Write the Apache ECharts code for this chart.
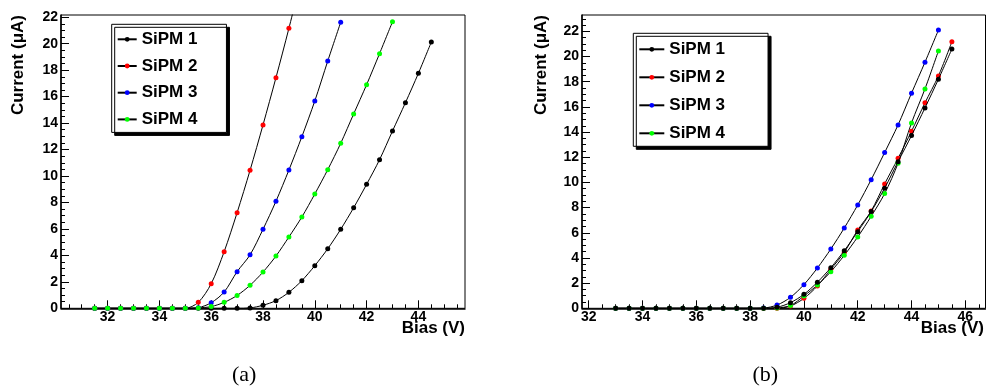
<!DOCTYPE html>
<html><head><meta charset="utf-8">
<script src="https://cdn.jsdelivr.net/npm/echarts/dist/echarts.min.js"></script>
<style>html,body{margin:0;padding:0;background:#fff}#c{width:986px;height:388px}</style>
</head><body><div id="c"></div>
<script>
const seriesNames = ['SiPM 1', 'SiPM 2', 'SiPM 3', 'SiPM 4'];
const seriesColors = ['#000000', '#ff0000', '#0000ff', '#00ff00'];

// Panel (a)
const biasA = [31.5, 32, 32.5, 33, 33.5, 34, 34.5, 35, 35.5, 36, 36.5, 37, 37.5, 38, 38.5, 39, 39.5, 40, 40.5, 41, 41.5, 42, 42.5, 43, 43.5, 44, 44.5];
const sipm1A = [0, 0, 0, 0, 0, 0, 0, 0, 0, 0, 0, 0, 0.03, 0.23, 0.58, 1.21, 2.09, 3.22, 4.5, 5.97, 7.6, 9.37, 11.23, 13.4, 15.54, 17.76, 20.13];
const sipm2A = [0, 0, 0, 0, 0, 0, 0, 0, 0.45, 1.86, 4.28, 7.23, 10.43, 13.86, 17.43, 21.16, 25.1];
const sipm3A = [0, 0, 0, 0, 0, 0, 0, 0, 0.05, 0.42, 1.23, 2.77, 4.04, 5.97, 8.09, 10.45, 12.97, 15.67, 18.69, 21.62];
const sipm4A = [0, 0, 0, 0, 0, 0, 0, 0, 0.03, 0.13, 0.45, 0.97, 1.74, 2.74, 3.95, 5.39, 6.9, 8.64, 10.48, 12.47, 14.69, 16.9, 19.25, 21.66];

// Panel (b)
const biasB = [33, 33.5, 34, 34.5, 35, 35.5, 36, 36.5, 37, 37.5, 38, 38.5, 39, 39.5, 40, 40.5, 41, 41.5, 42, 42.5, 43, 43.5, 44, 44.5, 45, 45.5];
const sipm1B = [0, 0, 0, 0, 0, 0, 0, 0, 0, 0, 0, 0, 0.08, 0.45, 1.11, 2.07, 3.23, 4.58, 6.09, 7.68, 9.54, 11.65, 13.72, 15.92, 18.2, 20.59];
const sipm2B = [0, 0, 0, 0, 0, 0, 0, 0, 0, 0, 0, 0, 0, 0.18, 0.79, 1.77, 3.1, 4.45, 6.22, 7.73, 9.88, 11.92, 14.07, 16.32, 18.46, 21.17];
const sipm3B = [0, 0, 0, 0, 0, 0, 0, 0, 0, 0, 0, 0.02, 0.26, 0.87, 1.88, 3.2, 4.71, 6.38, 8.21, 10.22, 12.37, 14.57, 17.09, 19.55, 22.1];
const sipm4B = [0, 0, 0, 0, 0, 0, 0, 0, 0, 0, 0, 0, 0.03, 0.22, 0.98, 1.85, 2.91, 4.21, 5.67, 7.31, 9.11, 11.53, 14.73, 17.43, 20.45];

// Tick labels
const xLabelsA = [32, 34, 36, 38, 40, 42, 44];
const xLabelsB = [32, 34, 36, 38, 40, 42, 44, 46];
const yLabelsA = [0, 2, 4, 6, 8, 10, 12, 14, 16, 18, 20, 22];
const yLabelsB = [0, 2, 4, 6, 8, 10, 12, 14, 16, 18, 20, 22];
const captions = ['(a)', '(b)'];
const xTitle = 'Bias (V)';
const yTitle = 'Current (\u03bcA)';

function steps(a, b, s) { const r = []; for (let v = a; v <= b + 1e-9; v += s) r.push(+v.toFixed(2)); return r; }
function pairs(xs, ys) { return ys.map((v, i) => [xs[i], v]); }

const FONT = 'Liberation Sans, Arial, sans-serif';
const SERIF = 'Liberation Serif, Times New Roman, serif';
const lblStyle = { color: '#000', fontFamily: FONT, fontWeight: 'bold', fontSize: 14 };
const titleStyle = { color: '#000', fontFamily: FONT, fontWeight: 'bold', fontSize: 17 };

function mainX(grid, min, max, labels, allTicks) {
  return {
    type: 'value', gridIndex: grid, min: min, max: max, position: 'bottom',
    axisLine: { show: true, onZero: false, lineStyle: { color: '#000', width: 1.5 } },
    axisTick: { show: true, inside: true, length: 8, customValues: labels, lineStyle: { color: '#000', width: 1 } },
    axisLabel: Object.assign({
      customValues: allTicks, margin: 2, hideOverlap: false, showMinLabel: true, showMaxLabel: true,
      formatter: function (v) { return labels.indexOf(Math.round(v * 100) / 100) >= 0 ? String(Math.round(v)) : ''; }
    }, lblStyle),
    splitLine: { show: false }
  };
}
function minorX(grid, min, max, ticks) {
  return {
    type: 'value', gridIndex: grid, min: min, max: max, position: 'bottom',
    axisLine: { show: false, onZero: false },
    axisTick: { show: true, inside: true, length: 4, customValues: ticks, lineStyle: { color: '#000', width: 1 } },
    axisLabel: { show: false }, splitLine: { show: false }
  };
}
function mainY(grid, min, max, labels) {
  return {
    type: 'value', gridIndex: grid, min: min, max: max, position: 'left',
    axisLine: { show: true, onZero: false, lineStyle: { color: '#000', width: 1.5 } },
    axisTick: { show: true, inside: true, length: 8, customValues: labels, lineStyle: { color: '#000', width: 1 } },
    axisLabel: Object.assign({ customValues: labels, margin: 3, hideOverlap: false, showMinLabel: true, showMaxLabel: true }, lblStyle),
    splitLine: { show: false }
  };
}
function minorY(grid, min, max, ticks, pad) {
  return {
    type: 'value', gridIndex: grid, min: min, max: max, position: 'left',
    axisLine: { show: false, onZero: false },
    axisTick: { show: true, inside: true, length: 4, customValues: ticks, lineStyle: { color: '#000', width: 1 } },
    axisLabel: { show: false }, splitLine: { show: false },
    name: yTitle, nameLocation: 'end', nameGap: 0, nameRotate: 90, nameMoveOverlap: false,
    nameTextStyle: Object.assign({ align: 'right', verticalAlign: 'bottom', padding: [0, 0, pad, 0] }, titleStyle)
  };
}
function mkSeries(i, ax, xs, ys, z) {
  return {
    name: seriesNames[i], type: 'line', xAxisIndex: ax, yAxisIndex: ax,
    data: pairs(xs, ys), smooth: 0.3, symbol: 'circle', symbolSize: 5, showSymbol: true,
    lineStyle: { color: '#000', width: 1 }, itemStyle: { color: seriesColors[i], borderWidth: 0 },
    clip: true, z: z, emphasis: { disabled: true }, animation: false
  };
}
function mkLegend(left, top, iw, gap, pad) {
  return {
    orient: 'vertical', left: left, top: top, data: seriesNames, selectedMode: false,
    itemWidth: iw, itemHeight: 6, itemGap: gap, padding: pad,
    backgroundColor: '#fff', borderColor: '#000', borderWidth: 1, borderRadius: 0,
    shadowColor: '#000', shadowOffsetX: 3, shadowOffsetY: 3, shadowBlur: 0,
    textStyle: Object.assign({ lineHeight: 18 }, titleStyle)
  };
}
function xTitleText(x) {
  return {
    type: 'text', x: x, y: 320, z: 10, silent: true,
    style: { text: xTitle, align: 'right', verticalAlign: 'top', font: 'bold 17px ' + FONT, fill: '#000' }
  };
}

const minorTicksXA = steps(30.5, 45.5, 0.5);
const minorTicksXB = steps(32, 46.5, 0.5);

const option = {
  backgroundColor: '#fff',
  animation: false,
  title: [
    { text: captions[0], left: 227, top: 359, textStyle: { fontFamily: SERIF, fontWeight: 'normal', fontSize: 22, color: '#000' } },
    { text: captions[1], left: 747.5, top: 359, textStyle: { fontFamily: SERIF, fontWeight: 'normal', fontSize: 22, color: '#000' } }
  ],
  grid: [
    { left: 61, top: 15, width: 404, height: 293.3, show: true, borderColor: '#000', borderWidth: 1, backgroundColor: 'transparent', containLabel: false },
    { left: 582, top: 15, width: 403.5, height: 293.3, show: true, borderColor: '#000', borderWidth: 1, backgroundColor: 'transparent', containLabel: false }
  ],
  xAxis: [
    mainX(0, 30.2, 45.8, xLabelsA, minorTicksXA),
    minorX(0, 30.2, 45.8, minorTicksXA),
    mainX(1, 31.75, 46.75, xLabelsB, minorTicksXB),
    minorX(1, 31.75, 46.75, minorTicksXB)
  ],
  yAxis: [
    mainY(0, 0, 22.17, yLabelsA),
    minorY(0, 0, 22.17, steps(0, 22, 0.5), 34),
    mainY(1, 0, 23.3, yLabelsB),
    minorY(1, 0, 23.3, steps(0, 23, 0.5), 32)
  ],
  legend: [
    mkLegend(111.7, 24.3, 19, 8.7, [6, 29, 4, 5]),
    mkLegend(633.3, 33.3, 25, 10, [7, 43, 4, 5])
  ],
  graphic: [xTitleText(465), xTitleText(984)],
  series: [
    mkSeries(0, 0, biasA, sipm1A, 2),
    mkSeries(1, 0, biasA, sipm2A, 2),
    mkSeries(2, 0, biasA, sipm3A, 2),
    mkSeries(3, 0, biasA, sipm4A, 2),
    mkSeries(1, 2, biasB, sipm2B, 2),
    mkSeries(2, 2, biasB, sipm3B, 2),
    mkSeries(3, 2, biasB, sipm4B, 2),
    mkSeries(0, 2, biasB, sipm1B, 3)
  ]
};
const chart = echarts.init(document.getElementById('c'), null, { renderer: 'canvas' });
chart.setOption(option);
</script>
</body></html>
